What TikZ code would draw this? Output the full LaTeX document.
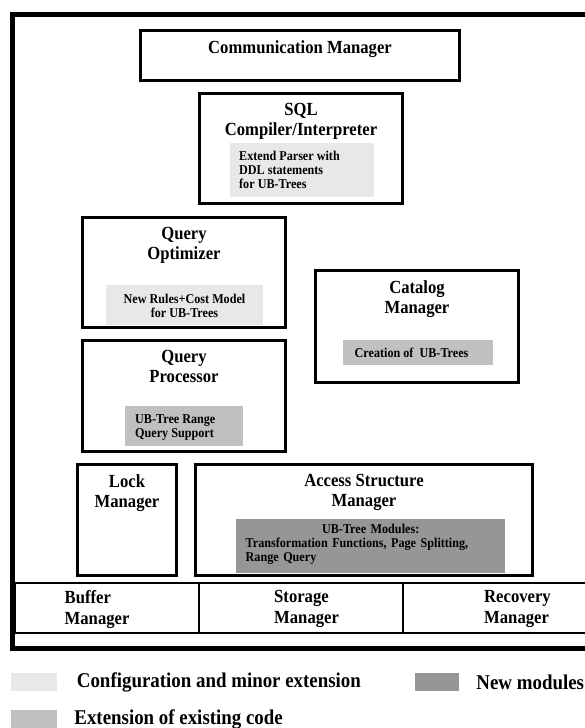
\documentclass[tikz,border=0pt]{standalone}
\usepackage{fontspec}
\setmainfont[FakeStretch=0.9]{Liberation Serif}
\usetikzlibrary{positioning}

\definecolor{minorgray}{HTML}{E8E8E8}
\definecolor{extgray}{HTML}{C0C0C0}
\definecolor{newgray}{HTML}{969696}

\begin{document}
\begin{tikzpicture}[x=1pt,y=-1pt,
	module/.style={draw,line width=3pt,inner sep=0pt},
	cell/.style={draw,line width=2pt,inner sep=0pt},
	title/.style={inner sep=0pt,align=center,anchor=north,font=\fontsize{18.5}{20.5}\selectfont\bfseries},
	celltext/.style={inner sep=0pt,align=left,anchor=north west,font=\fontsize{18.5}{20.5}\selectfont\bfseries},
	note/.style={inner sep=0pt,align=left,anchor=north west,font=\fontsize{13.5}{14}\selectfont\bfseries},
	minor/.style={fill=minorgray,inner sep=0pt},
	ext/.style={fill=extgray,inner sep=0pt},
	newmod/.style={fill=newgray,inner sep=0pt},
	legend/.style={inner sep=0pt,anchor=west,font=\fontsize{21}{24}\selectfont\bfseries}]
	\useasboundingbox (0,0) rectangle (585,728);
	\clip (0,0) rectangle (585,728);
	
	%FRAME
	\draw[line width=5pt] (12.5,14.5) rectangle (610,648.5);
	
	%MODULES
	\node[module,minimum width=319,minimum height=50] (comm) at (300,55.5) {};
	\node[title] (commT) at ([yshift=-11pt]comm.north) {Communication Manager};
	
	\node[module,minimum width=203,minimum height=110] (sql) at (301,148.5) {};
	\node[title] (sqlT) at ([yshift=-11pt]sql.north) {SQL\\Compiler/Interpreter};
	\node[minor,minimum width=144.5,minimum height=54] (sqlnote) at (302,170) {};
	\node[note] (sqlnoteT) at (239,150.8) {Extend Parser with\\DDL statements\\ for UB-Trees};
	
	\node[module,minimum width=203,minimum height=110] (opt) at (184,272.5) {};
	\node[title] (optT) at ([yshift=-11pt]opt.north) {Query\\Optimizer};
	\node[minor,minimum width=157,minimum height=40] (optnote) at (184.5,305) {};
	\node[note,align=center,anchor=north] (optnoteT) at (184.5,293.8) {New Rules+Cost Model\\for UB-Trees};
	
	\node[module,minimum width=203,minimum height=111] (proc) at (184,396) {};
	\node[title] (procT) at ([yshift=-11pt]proc.north) {Query\\Processor};
	\node[ext,minimum width=118,minimum height=40] (procnote) at (184,426) {};
	\node[note] (procnoteT) at (135,414.8) {UB-Tree Range\\Query Support};
	
	\node[module,minimum width=203,minimum height=112] (cat) at (417,326.5) {};
	\node[title] (catT) at ([yshift=-11pt]cat.north) {Catalog\\Manager};
	\node[ext,minimum width=149.5,minimum height=25] (catnote) at (418,352.5) {};
	\node[note] (catnoteT) at (354.5,347.8) {Creation of~ UB-Trees};
	
	\node[module,minimum width=99,minimum height=111] (lock) at (127,520) {};
	\node[title] (lockT) at ([yshift=-11pt]lock.north) {Lock\\Manager};
	
	\node[module,minimum width=337,minimum height=111] (acc) at (364,520) {};
	\node[title] (accT) at ([yshift=-11pt]acc.north) {Access Structure\\Manager};
	\node[newmod,minimum width=269,minimum height=54] (accnote) at (370.5,546) {};
	\node[note,text width=250] (accnoteT) at (245.5,523.8)
		{\makebox[\linewidth]{UB-Tree Modules:}\\Transformation Functions, Page Splitting,\\Range Query};
	
	%BOTTOM ROW
	\node[cell,minimum width=184,minimum height=50] (buf) at (107,608) {};
	\node[cell,minimum width=204,minimum height=50] (sto) at (301,608) {};
	\node[cell,minimum width=197,minimum height=50] (rec) at (501.5,608) {};
	\node[celltext] (bufT) at (64.5,590.5) {Buffer\\Manager};
	\node[celltext] (stoT) at (274,590.5) {Storage\\Manager};
	\node[celltext] (recT) at (484,590.5) {Recovery\\Manager};
	
	%LEGEND
	\node[minor,minimum width=46,minimum height=18] (keyminor) at (34,682) {};
	\node[legend,right=19.5pt of keyminor] (keyminorT) {Configuration and minor extension};
	\node[newmod,minimum width=44,minimum height=18] (keynew) at (437,682) {};
	\node[legend,right=17pt of keynew] (keynewT) {New modules};
	\node[ext,minimum width=46,minimum height=18] (keyext) at (34,719) {};
	\node[legend,right=17pt of keyext] (keyextT) {Extension of existing code};
\end{tikzpicture}
\end{document}
